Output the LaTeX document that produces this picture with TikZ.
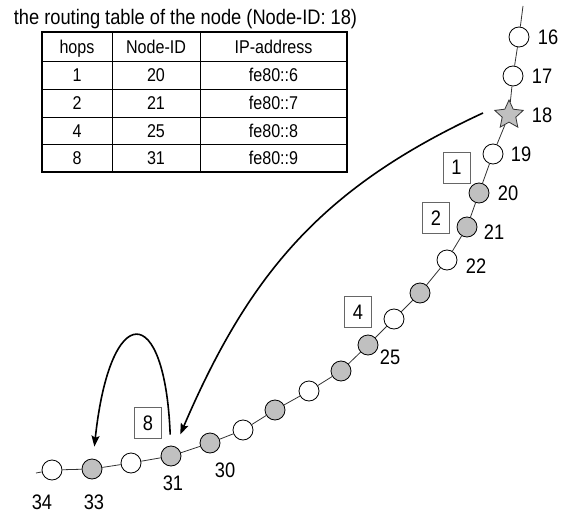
\documentclass[tikz,border=0pt]{standalone}
\usepackage{fontspec}
\setmainfont[FakeStretch=0.87]{Liberation Sans}
\usetikzlibrary{arrows.meta,shapes.geometric}
\definecolor{fingergray}{HTML}{C0C0C0}
\definecolor{ringline}{HTML}{333333}

\begin{document}
\begin{tikzpicture}[
    x=1pt, y=-1pt,
    >=Stealth,
    font=\fontsize{21}{24}\selectfont,
    link/.style={ringline, line width=0.8pt},
    peer/.style={circle, draw=black, line width=0.8pt, fill=white, minimum size=20pt, inner sep=0pt},
    finger/.style={peer, fill=fingergray},
    self/.style={star, star points=5, star point ratio=2.1, draw=black!80, line width=0.8pt, fill=fingergray, minimum size=30pt, inner sep=0pt},
    idlabel/.style={inner sep=0pt, text height=15pt, text depth=0pt},
    hopbox/.style={draw=black!60, line width=0.7pt, minimum width=27pt, minimum height=31pt, inner sep=0pt, text height=15pt, text depth=0pt},
    jump/.style={black, line width=1.6pt, -{Stealth[length=11pt, width=8pt, inset=2pt]}},
    cell/.style={inner sep=0pt, font=\fontsize{18.5}{21}\selectfont, text height=13pt, text depth=0pt},
    frame/.style={black, line width=1.8pt},
    rule/.style={black, line width=0.9pt}
]
\useasboundingbox (0,0) rectangle (567,513);

% -------- routing table of node 18 --------
\node[anchor=base] (title) at (185.5,25) {the routing table of the node (Node-ID: 18)};

\foreach \yy in {61,89,117,144}{
    \draw[rule] (42,\yy) -- (347,\yy);
}
\foreach \xx in {112,200}{
    \draw[rule] (\xx,32) -- (\xx,172);
}
\draw[frame] (42,32) rectangle (347,172);

\node[cell] (h-hops) at (77,47)    {hops};
\node[cell] (h-id)   at (156,47)   {Node-ID};
\node[cell] (h-ip)   at (273.5,47) {IP-address};
\foreach \r/\yy/\hop/\nid/\ip in {1/75/1/20/6, 2/103/2/21/7, 3/131/4/25/8, 4/158/8/31/9}{
    \node[cell] (t-\r-hop) at (77,\yy)    {\hop};
    \node[cell] (t-\r-id)  at (156,\yy)   {\nid};
    \node[cell] (t-\r-ip)  at (273.5,\yy) {fe80::\ip};
}

% -------- ring of nodes 16 ... 34 --------
\node[peer]   (p16) at (519,37)  {};
\node[peer]   (p17) at (513,76)  {};
\node[self]   (p18) at (509,115) {};
\foreach \n/\xx/\yy/\kind in {19/493/154/peer, 20/479/193/finger, 21/467/227/finger,
    22/447/260/peer, 23/420/293/finger, 24/394/319/peer, 25/368/345/finger,
    26/341/371/finger, 27/309/391/peer, 28/275/410/finger, 29/243/430/peer,
    30/210/443/finger, 31/171/456/finger, 32/131/463/peer, 33/92/469/finger,
    34/52/470/peer}{
    \node[\kind] (p\n) at (\xx,\yy) {};
}
\coordinate (ringtop) at (523,6);
\coordinate (ringend) at (36,473);

\draw[link] (ringtop) -- (p16);
\foreach \n [remember=\n as \p (initially 16)] in {17,...,34}{
    \draw[link] (p\p) -- (p\n);
}
\draw[link] (p34) -- (ringend);

% node IDs
\node[idlabel] (l16) at (548,37)  {16};
\node[idlabel] (l17) at (542,76)  {17};
\node[idlabel] (l18) at (542,115) {18};
\node[idlabel] (l19) at (521,154) {19};
\node[idlabel] (l20) at (508,193) {20};
\node[idlabel] (l21) at (494,232) {21};
\node[idlabel] (l22) at (476,266) {22};
\node[idlabel] (l25) at (390,357) {25};
\node[idlabel] (l30) at (225,470) {30};
\node[idlabel] (l31) at (173,483) {31};
\node[idlabel] (l33) at (94,502)  {33};
\node[idlabel] (l34) at (42,502)  {34};

% hop counts of the fingers
\node[hopbox] (b1) at (456.5,167.5) {1};
\node[hopbox] (b2) at (436,218)     {2};
\node[hopbox] (b4) at (358,312)     {4};
\node[hopbox] (b8) at (148,423)     {8};

% -------- lookup jumps --------
\coordinate (src) at (483,113);
\draw[jump, shorten >=13pt] (src) .. controls (323,187) and (250,272) .. (p31);
\draw[jump, shorten <=11pt, shorten >=12pt] (p31) .. controls (165,300) and (110,300) .. (p33);

\end{tikzpicture}
\end{document}
